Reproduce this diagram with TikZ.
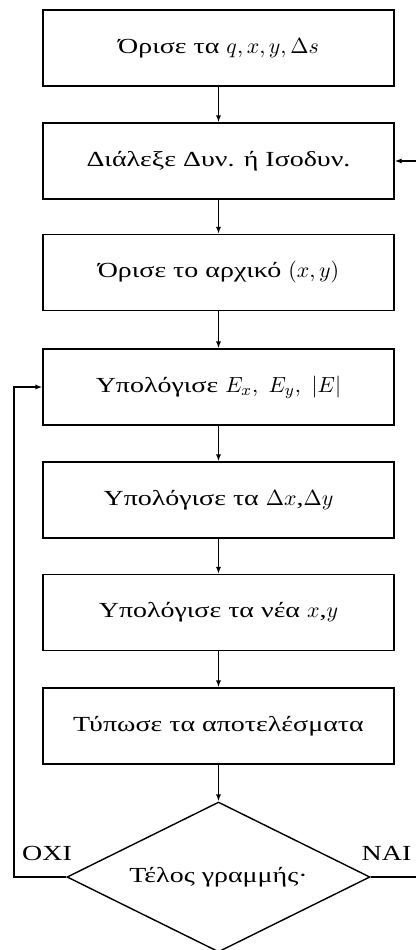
\documentclass[tikz,border=0pt]{standalone}
\usepackage[no-math]{fontspec}
\setmainfont[FakeStretch=1.3]{Liberation Serif}
\usetikzlibrary{shapes.geometric,arrows.meta}
\begin{document}
% one unit = half a point, so the text stays at its natural 10.5pt size
\begin{tikzpicture}[x=0.5pt,y=-0.5pt,
  font=\fontsize{10.75}{13}\selectfont,
  line width=0.7pt,
  stepbox/.style={draw, minimum width=175.5pt, minimum height=38pt, inner sep=0pt},
  decision/.style={draw, diamond, aspect=2.02, minimum width=151.5pt, minimum height=75pt, inner sep=0pt},
  flow/.style={-{Latex[length=3.5pt,width=2.6pt]}},
  tag/.style={inner sep=0pt}]
\useasboundingbox (0,0) rectangle (416,950);
\clip (0,0) rectangle (416,950);

\node[stepbox] (b1) at (218.5,48)    {Όρισε τα $q, x, y, \Delta s$};
\node[stepbox] (b2) at (218.5,161)   {Διάλεξε Δυν. ή Ισοδυν.};
\node[stepbox] (b3) at (218.5,272.5) {Όρισε το αρχικό $(x,y)$};
\node[stepbox] (b4) at (218.5,387)   {Υπολόγισε $E_x,\ E_y,\ |E|$};
\node[stepbox] (b5) at (218.5,500)   {Υπολόγισε τα $\Delta x$,$\Delta y$};
\node[stepbox] (b6) at (218.5,612.5) {Υπολόγισε τα νέα $x$,$y$};
\node[stepbox] (b7) at (218.5,726)   {Τύπωσε τα αποτελέσματα};
\node[decision] (d) at (218.5,877)   {Τέλος γραμμής·};

\draw[flow] (b1) -- (b2);
\draw[flow] (b2) -- (b3);
\draw[flow] (b3) -- (b4);
\draw[flow] (b4) -- (b5);
\draw[flow] (b5) -- (b6);
\draw[flow] (b6) -- (b7);
\draw[flow] (b7) -- (d);

% "no" branch loops back to the field computation
\coordinate (loopL) at (14,877);
\draw[flow] (d.west) -- (loopL) |- (b4.west);
% "yes" branch returns to the choice of line type
\coordinate (loopR) at (430,877);
\draw[flow] (d.east) -- (loopR) |- (b2.east);

\node[tag] (no)  at (47,853)  {ΟΧΙ};
\node[tag] (yes) at (386.5,853) {ΝΑΙ};
\end{tikzpicture}
\end{document}
